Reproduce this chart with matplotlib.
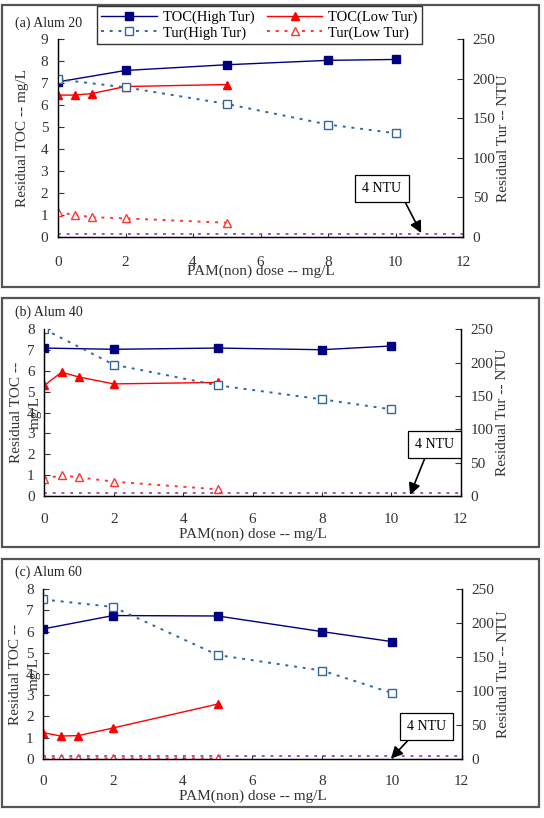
import matplotlib
matplotlib.use("Agg")
import matplotlib.pyplot as plt
from matplotlib.patches import Rectangle

plt.rcParams['font.family'] = ['Liberation Serif', 'DejaVu Serif']

# PAM dose (mg/L)
dose_high = [0, 2, 5, 8, 10]
dose_low = [0, 0.5, 1, 2, 5]

# (a) Alum 20
toc_high_a = [7.05, 7.57, 7.83, 8.03, 8.07]
toc_low_a = [6.45, 6.45, 6.52, 6.84, 6.93]
tur_high_a = [199, 189, 168, 142, 131]
tur_low_a = [31, 28, 25, 23.5, 18]

# (b) Alum 40
toc_high_b = [7.1, 7.04, 7.1, 7.02, 7.2]
toc_low_b = [5.31, 5.94, 5.71, 5.38, 5.45]
tur_high_b = [250, 197, 166, 145, 130]
tur_low_b = [26, 31, 28, 21.5, 10]

# (c) Alum 60
toc_high_c = [6.13, 6.76, 6.74, 6.0, 5.53]
toc_low_c = [1.23, 1.07, 1.09, 1.45, 2.58]
tur_high_c = [235, 224, 153, 130, 97]
tur_low_c = [1, 0.5, 0.5, 0.5, 0.5]

ntu_limit = 4

W, H = 544, 818
fig = plt.figure(figsize=(W / 100, H / 100), dpi=100)


def px_axes(x0, x1, ytop, ybot):
    return fig.add_axes([x0 / W, 1 - ybot / H, (x1 - x0) / W, (ybot - ytop) / H])


def panel(box, axpos, title, title_y, toc_hi, toc_lo, tur_hi, tur_lo, ymax,
          ylabel, ylab_x, xlab_y, xpad, note_xy, note_txt, relpos):
    # grey frame around each panel
    bx0, by0, bx1, by1 = box
    fig.patches.append(Rectangle((bx0 / W, 1 - by1 / H), (bx1 - bx0) / W, (by1 - by0) / H,
                                 transform=fig.transFigure, fill=False,
                                 edgecolor='#555555', linewidth=1.6))
    fig.text(15 / W, 1 - title_y / H, title, fontsize=10, va='center', ha='left',
             color='#222222')

    ax = px_axes(*axpos)
    ax2 = ax.twinx()

    l1, = ax.plot(dose_high, toc_hi, '-s', color='#000080', mfc='#000080', mec='#000080',
                  ms=5.5, lw=1, label='TOC(High Tur)', zorder=3)
    l3, = ax.plot(dose_low, toc_lo, '-^', color='#ff0000', mfc='#ff0000', mec='#ff0000',
                  ms=6, lw=1, label='TOC(Low Tur)', zorder=3)
    l2, = ax2.plot(dose_high, tur_hi, linestyle=(0, (1.5, 3)), marker='s', color='#336699',
                   mfc='white', mec='#336699', ms=6, lw=1.4, label='Tur(High Tur)')
    l4, = ax2.plot(dose_low, tur_lo, linestyle=(0, (1.5, 3)), marker='^', color='#ff3333',
                   mfc='white', mec='#ff3333', ms=6, lw=1.4, label='Tur(Low Tur)')
    ax2.plot([0, 12], [ntu_limit, ntu_limit], linestyle=(0, (1.5, 3)), color='#9955bb', lw=1.4)

    ax.set_xlim(0, 12)
    ax.set_ylim(0, ymax)
    ax2.set_ylim(0, 250)
    ax.set_xticks(range(0, 13, 2))
    ax.set_yticks(range(0, ymax + 1))
    ax2.set_yticks(range(0, 251, 50))

    for a in (ax, ax2):
        a.spines['top'].set_visible(False)
        for s in a.spines.values():
            s.set_linewidth(0.9)
    ax.tick_params(axis='y', direction='in', length=4, pad=7, labelsize=11, colors='#333333')
    ax2.tick_params(axis='y', direction='in', length=4, pad=7, labelsize=11, colors='#333333')
    ax.tick_params(axis='x', direction='in', length=3, pad=xpad, labelsize=11, colors='#333333')

    ax.set_ylabel(ylabel, fontsize=11, color='#333333', linespacing=1.6)
    ax.yaxis.set_label_coords(ylab_x, 0.5)
    ax2.set_ylabel('Residual Tur -- NTU', fontsize=11, color='#333333')
    ax2.yaxis.set_label_coords(1.085, 0.5)
    ax.set_xlabel('PAM(non) dose -- mg/L', fontsize=11, color='#333333')
    ax.xaxis.set_label_coords(0.5, xlab_y)

    ax2.annotate(note_txt[0], xy=note_xy, xytext=note_txt[1], fontsize=10,
                 ha='center', va='center',
                 bbox=dict(boxstyle='square,pad=0.5', fc='white', ec='black', lw=0.9),
                 arrowprops=dict(arrowstyle='-|>,head_width=0.35,head_length=0.7',
                                 color='black', lw=1.2, relpos=relpos, shrinkA=0, shrinkB=0))
    return [l1, l2, l3, l4]


handles = panel((2, 5, 539, 287), (58, 463, 39, 237), '(a) Alum 20', 23,
                toc_high_a, toc_low_a, tur_high_a, tur_low_a, 9,
                'Residual TOC -- mg/L', -0.072, -0.14, 14,
                (10.76, 5), ('4 NTU', (9.6, 61)), (1, 0))
panel((2, 298, 539, 547), (44.3, 460.7, 329.3, 496), '(b) Alum 40', 312,
      toc_high_b, toc_low_b, tur_high_b, tur_low_b, 8,
      'Residual TOC --\nmg/L', -0.006, -0.19, 12,
      (10.54, 1.5), ('4 NTU', (11.25, 77)), (0.32, 0))
panel((2, 559, 539, 807), (43.3, 461.7, 589.3, 758.7), '(c) Alum 60', 572,
      toc_high_c, toc_low_c, tur_high_c, tur_low_c, 8,
      'Residual TOC --\nmg/L', -0.006, -0.18, 12,
      (9.97, 0), ('4 NTU', (11.0, 48)), (0.2, 0))

fig.legend(handles=handles, loc='upper left', ncol=2, fontsize=10.5,
           bbox_to_anchor=(97 / W, 1 - 42 / H, (422 - 97) / W, 36 / H), mode='expand',
           frameon=True, fancybox=False, edgecolor='#333333', framealpha=1,
           borderaxespad=0, handlelength=3.8, labelspacing=0.15, borderpad=0.3,
           columnspacing=1.0, handletextpad=0.4)

fig.savefig('out.png', dpi=100)
